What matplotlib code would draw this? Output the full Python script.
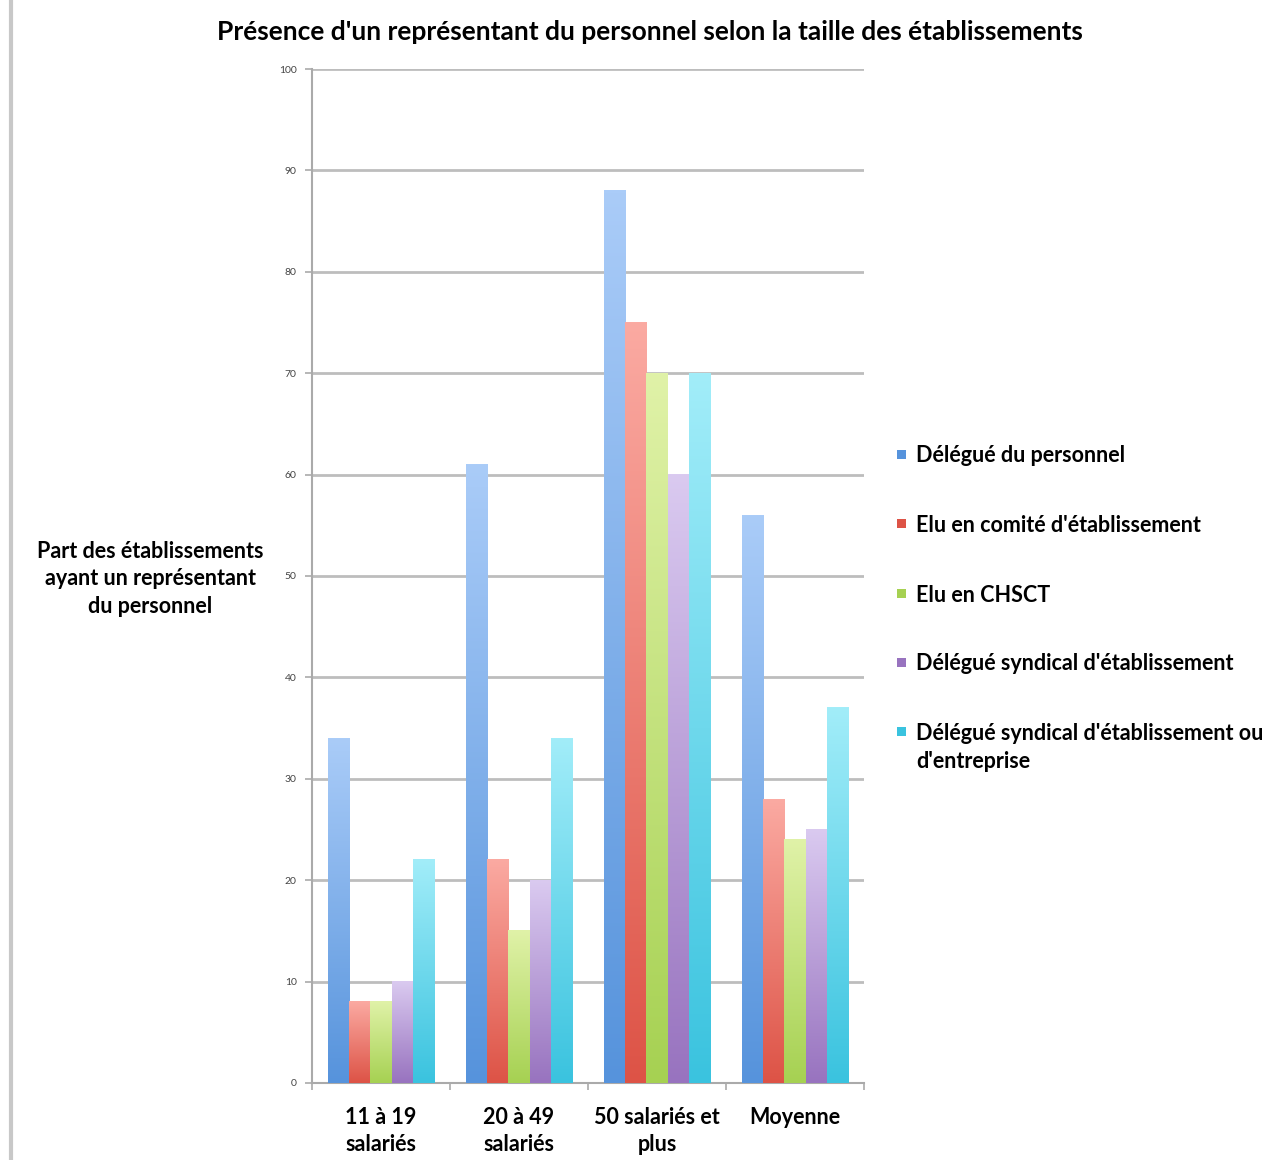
import numpy as np
import matplotlib.pyplot as plt
from matplotlib.colors import LinearSegmentedColormap
from matplotlib.patches import Rectangle

plt.rcParams['font.family'] = ['Lato', 'DejaVu Sans']

categories = ["11 à 19\nsalariés", "20 à 49\nsalariés", "50 salariés et\nplus", "Moyenne"]
series = ["Délégué du personnel",
          "Elu en comité d'établissement",
          "Elu en CHSCT",
          "Délégué syndical d'établissement",
          "Délégué syndical d'établissement ou\nd'entreprise"]
values = [
    [34, 61, 88, 56],
    [8, 22, 75, 28],
    [8, 15, 70, 24],
    [10, 20, 60, 25],
    [22, 34, 70, 37],
]
# (haut, bas) de chaque dégradé
gradients = [
    ("#aaccf8", "#5693dc"),
    ("#fbaaa2", "#dd5346"),
    ("#e0f2a8", "#a6d152"),
    ("#dacaf0", "#9873bf"),
    ("#a2edf9", "#3ac3df"),
]

fig = plt.figure(figsize=(12.85, 11.6), dpi=100)
ax = fig.add_axes([0.2428, 0.0664, 0.4296, 0.8741])

x = np.arange(len(categories))
w = 0.155
for i, (vals, (top, bot)) in enumerate(zip(values, gradients)):
    cmap = LinearSegmentedColormap.from_list("g%d" % i, [bot, top])
    bars = ax.bar(x + (i - 2) * w, vals, w, facecolor="none", edgecolor="none", zorder=3)
    grad = np.linspace(1, 0, 256).reshape(-1, 1)
    for b in bars:
        x0, y0 = b.get_x(), b.get_y()
        ax.imshow(grad, cmap=cmap, vmin=0, vmax=1, aspect="auto", zorder=3,
                  extent=[x0, x0 + b.get_width(), y0, y0 + b.get_height()])

ax.set_xlim(-0.5, 3.5)
ax.set_ylim(0, 100)

ax.set_yticks(np.arange(0, 101, 10))
ax.tick_params(axis="y", labelsize=7.5, colors="#444444", length=5, width=1.2,
               color="#aaaaaa", pad=6)
ax.yaxis.grid(True, color="#bdbdbd", lw=2)
ax.set_axisbelow(True)

ax.set_xticks(x)
ax.set_xticklabels(categories, fontsize=15.5, fontweight="bold", linespacing=1.38)
ax.tick_params(axis="x", length=0, pad=17)
ax.set_xticks(np.arange(-0.5, 4, 1), minor=True)
ax.tick_params(axis="x", which="minor", length=5, width=1.2, color="#aaaaaa")

for s in ["top", "right"]:
    ax.spines[s].set_visible(False)
for s in ["left", "bottom"]:
    ax.spines[s].set_color("#aaaaaa")
    ax.spines[s].set_linewidth(1.5)

fig.text(0.506, 0.972, "Présence d'un représentant du personnel selon la taille des établissements",
         ha="center", va="center", fontsize=19, fontweight="bold")
fig.text(0.117, 0.501, "Part des établissements\nayant un représentant\ndu personnel",
         ha="center", va="center", fontsize=15.5, fontweight="bold", linespacing=1.4)

# légende
leg_y = [456, 525, 595, 664, 733]
for (top, bot), name, yy in zip(gradients, series, leg_y):
    fy = 1 - yy / 1160
    fig.patches.append(Rectangle((897 / 1285, fy - 0.0025), 9 / 1285, 9 / 1160,
                                 transform=fig.transFigure, facecolor=bot, edgecolor="none"))
    if "\n" in name:
        fig.text(916 / 1285, fy + 10 / 1160, name, ha="left", va="top",
                 fontsize=15.5, fontweight="bold", linespacing=1.4)
    else:
        fig.text(916 / 1285, fy, name, ha="left", va="center",
                 fontsize=15.5, fontweight="bold")

# bordure gauche
fig.add_artist(plt.Line2D([10.5 / 1285, 10.5 / 1285], [0, 1], transform=fig.transFigure,
                          color="#c8c8c8", lw=3))

fig.savefig("out.png", dpi=100)
